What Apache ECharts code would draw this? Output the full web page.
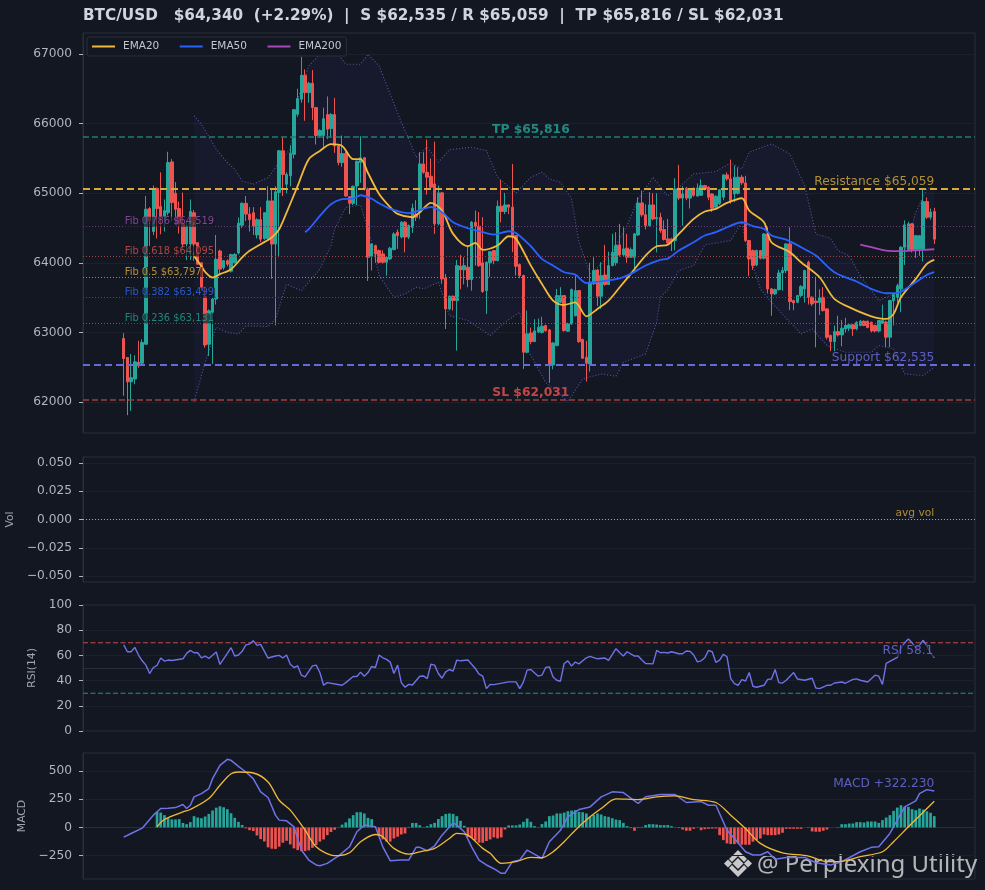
<!DOCTYPE html>
<html><head><meta charset="utf-8">
<style>html,body{margin:0;padding:0;background:#131722}#c{width:985px;height:890px}</style>
<script src="https://cdn.jsdelivr.net/npm/echarts@6/dist/echarts.min.js"></script></head>
<body><div id="c"></div>
<script>
// candle rows: bar index, open, close, low, high
const ohlc = [
[0,62913,62625,62090,62990],[1,62640,62290,61811,62640],[2,62290,62350,61873,62690],[3,62330,62577,62256,62673],
[4,62570,62520,62490,62880],[5,62558,62855,62520,62900],[6,62830,64770,62830,64960],[7,64780,64600,64240,64800],
[8,64450,65060,64400,65110],[9,65070,64780,64350,65080],[10,64810,64670,64410,65300],[11,64670,64750,64450,64910],
[12,64720,65440,64680,65595],[13,65450,64865,64600,65490],[14,65000,64770,64540,65160],[15,64780,64560,64420,64880],
[16,64560,64270,64200,65010],[17,64270,64530,64040,64600],[18,64270,64740,64040,64910],[19,64720,64270,64030,64760],
[20,64290,63980,63970,64290],[21,64000,63650,63600,64010],[22,63520,62820,62780,63650],[23,62830,63310,62660,63330],
[24,63290,63480,62545,63500],[25,63480,64050,63400,64400],[26,64170,63910,63840,64190],[27,63930,64030,63900,64040],
[28,64030,63980,63950,64050],[29,63880,64120,63860,64130],[30,64000,64120,63990,64140],[31,64140,64570,64120,64650],
[32,64540,64855,64500,64870],[33,64855,64700,64600,64960],[34,64700,64620,64450,64800],[35,64720,64530,64400,64800],
[36,64400,64620,64350,64640],[37,64620,64340,64300,64800],[38,64350,64720,64330,64730],[39,64350,64890,64330,65100],
[40,64890,64270,63770,65060],[41,64270,65020,63100,65100],[42,65010,65610,64080,65620],[43,65610,65270,64960,65800],
[44,65130,65270,65000,65300],[45,65250,65575,65100,65690],[46,65560,66200,65500,66210],[47,66135,66360,66100,66500],
[48,66350,66695,66300,66960],[49,66695,66445,66040,66780],[50,66445,66580,66300,66600],[51,66580,66230,66050,66770],
[52,66230,65830,65700,66240],[53,65830,65900,65800,65920],[54,65830,66070,65650,66230],[55,66130,65920,65780,66390],
[56,65930,66130,65800,66150],[57,66130,65680,65580,66370],[58,65680,65440,65400,65700],[59,65440,65570,65380,65830],
[60,65570,64960,64950,65600],[61,64950,64855,64700,64960],[62,64855,65100,64830,65110],[63,65105,65460,64830,65470],
[64,65440,65510,65150,65820],[65,65510,65060,65040,65520],[66,65060,64080,63740,65080],[67,64095,64272,63890,64280],
[68,64248,64128,64000,64260],[69,64176,64008,63990,64190],[70,64128,64008,63990,64180],[71,64008,64080,63815,64090],
[72,64056,64210,64040,64230],[73,64190,64415,64180,64440],[74,64440,64390,64200,64480],[75,64370,64583,64350,64600],
[76,64583,64370,64150,64600],[77,64370,64535,64340,64550],[78,64510,64785,64430,64850],[79,64700,64655,64600,64900],
[80,64730,65421,64631,65590],[81,65421,65300,65280,65590],[82,65300,65230,64980,65770],[83,65244,65086,65060,65500],
[84,65134,64560,64416,65742],[85,64560,65005,64540,65110],[86,65005,63769,63700,65020],[87,63780,63338,63050,63840],
[88,63338,63520,63320,63530],[89,63520,63458,63314,63530],[90,63458,63960,62739,64040],[91,63950,63900,63620,64114],
[92,63900,63960,63690,64080],[93,63937,63760,63650,64230],[94,63760,64583,63600,64600],[95,64583,64526,63960,64750],
[96,64526,63960,63940,64730],[97,64000,63587,63570,64655],[98,63600,64008,63266,64020],[99,64000,64160,63800,64170],
[100,64176,64032,63980,64180],[101,64032,64813,64020,64895],[102,64813,64737,64580,65190],[103,64737,64832,64700,65005],
[104,64832,64800,64700,64840],[105,64800,64392,64152,65421],[106,64392,63950,63817,64400],[107,63975,63817,63780,63990],
[108,63817,62715,62476,63830],[109,62715,62980,62700,63314],[110,62993,62868,62830,63070],[111,62868,63022,62860,63190],
[112,63005,63075,62990,63200],[113,63000,63090,62985,63225],[114,63098,63025,63010,63110],[115,63036,62533,62275,63050],
[116,62533,62849,62470,62860],[117,62811,63529,62800,63625],[118,63433,63529,63420,63650],[119,63529,63027,63010,63535],
[120,63017,63122,63010,63140],[121,63122,63616,63110,63630],[122,63240,63601,63230,63817],[123,63601,62868,62850,63610],
[124,62897,62629,62620,62910],[125,62643,62557,62294,62880],[126,62547,63721,62437,64000],[127,63700,63890,63680,64080],
[128,63898,63520,63380,63910],[129,63520,63817,63337,64008],[130,63826,63688,63670,64258],[131,63688,63960,63680,64160],
[132,63960,64152,63950,64416],[133,64000,64248,63960,64440],[134,64258,64114,64090,64560],[135,64114,64200,64100,64510],
[136,64210,64080,64000,64416],[137,64080,64190,64070,64220],[138,64080,64415,63860,64430],[139,64400,64860,64390,64943],
[140,64860,64690,64660,65038],[141,64690,64535,64480,64840],[142,64535,64832,64520,65014],[143,64832,64630,64610,65000],
[144,64632,64650,64150,65000],[145,64655,64463,64430,64720],[146,64478,64334,64320,64610],[147,64344,64286,64270,64630],
[148,64344,64306,64170,64360],[149,64320,65062,64180,65215],[150,65062,64930,64900,65407],[151,64930,64990,64535,65100],
[152,65070,64930,64900,65090],[153,64930,65062,64780,65070],[154,65060,64970,64950,65085],[155,64960,65075,64950,65140],
[156,64970,65110,64960,65200],[157,65110,65060,65040,65120],[158,65086,64942,64900,65100],[159,64990,64785,64730,65000],
[160,64800,64957,64780,64970],[161,64850,65050,64830,65060],[162,64942,65263,64900,65270],[163,65263,65206,65180,65300],
[164,65206,64895,64850,65484],[165,64990,65230,64870,65397],[166,65000,65230,64980,65370],[167,65230,65150,65120,65260],
[168,65148,64320,64300,65250],[169,64320,64056,63807,64330],[170,64176,63960,63900,64190],[171,63970,64176,63950,64190],
[172,64176,64066,64050,64180],[173,64066,64415,64050,64430],[174,64415,63625,63560,64511],[175,63625,63553,63240,63640],
[176,63553,63616,63540,63630],[177,63616,63855,63600,63900],[178,63855,63889,63600,63940],[179,63889,64272,63850,64280],
[180,64272,63443,63320,64511],[181,63457,63424,63320,63470],[182,63433,63529,63420,63540],[183,63530,63660,63510,63680],
[184,63625,63889,63430,63900],[185,64008,63505,63400,64030],[186,63505,63410,63380,63520],[187,63450,63430,62787,63800],
[188,63430,63500,63250,63620],[189,63505,63314,63300,63650],[190,63338,62931,62900,63350],[191,62955,62868,62730,62970],
[192,62868,63012,62730,63100],[193,63012,62964,62940,63240],[194,62964,63060,62800,63180],[195,63050,63100,63000,63210],
[196,63060,63110,63020,63130],[197,63110,63050,62950,63120],[198,63050,63145,63030,63160],[199,63100,63160,63090,63180],
[200,63160,63100,63090,63175],[201,63160,63070,63060,63170],[202,63145,63020,63000,63155],[203,63100,63020,63000,63110],
[204,63020,63170,63000,63180],[205,63130,63170,63120,63400],[206,63150,62931,62790,63170],[207,62931,63458,62790,63470],
[208,63458,63550,63100,63560],[209,63500,63670,63430,63700],[210,63625,64224,63290,64240],[211,64224,64545,63970,64610],
[212,64190,64560,64180,64590],[213,64560,64190,64150,64570],[214,64190,64390,64070,64400],[215,64200,64390,64100,64400],
[216,64200,64880,64020,65072],[217,64880,64655,64630,64940],[218,64655,64730,64620,64780],[219,64737,64340,64270,64790]];

const ema20 = [[19,64100],[21,63950],[22,63870],[24,63789],[26,63837],[29,63909],[32,64077],[34,64172],[37,64268],[40,64364],[42,64483],[44,64722],[47,65105],[50,65489],[53,65608],[56,65704],[59,65680],[62,65489],[64,65489],[66,65290],[69,64990],[72,64800],[74,64703],[78,64655],[80,64727],[83,64861],[86,64751],[89,64416],[93,64238],[95,64286],[97,64186],[101,64248],[104,64382],[106,64344],[110,63960],[113,63697],[116,63458],[119,63395],[122,63433],[125,63232],[128,63338],[131,63458],[134,63649],[137,63841],[141,64104],[144,64238],[147,64260],[150,64416],[154,64631],[157,64737],[160,64775],[163,64861],[167,64928],[169,64751],[173,64583],[175,64296],[180,64152],[183,64008],[188,63793],[192,63482],[197,63338],[202,63232],[206,63194],[208,63266],[210,63505],[214,63769],[217,63985],[219,64042]];
const ema50 = [[49,64440],[50,64483],[53,64674],[56,64842],[59,64914],[62,64923],[64,64971],[67,64920],[69,64856],[72,64775],[77,64713],[81,64775],[83,64799],[86,64727],[89,64583],[93,64497],[97,64440],[100,64406],[104,64454],[106,64430],[110,64238],[113,64056],[116,63961],[119,63865],[122,63831],[125,63711],[129,63735],[134,63778],[137,63841],[141,63961],[145,64042],[147,64060],[150,64176],[154,64296],[157,64392],[160,64440],[163,64511],[167,64583],[170,64526],[173,64488],[175,64392],[179,64334],[183,64224],[187,64104],[192,63865],[198,63731],[202,63625],[206,63563],[209,63568],[214,63721],[217,63826],[219,63865]];
const ema200 = [[199,64260],[202,64224],[206,64176],[210,64167],[214,64181],[219,64195]];
const bbUpper = [[19,66111],[21,65992],[25,65632],[28,65441],[30,65345],[32,65177],[35,65129],[39,65225],[42,65441],[45,65632],[47,66351],[50,66830],[53,66997],[58,66997],[60,66854],[64,66854],[66,66997],[69,66830],[75,66020],[77,65780],[79,65517],[82,65661],[85,65445],[88,65627],[94,65661],[98,65613],[101,65230],[106,65005],[110,65230],[113,65302],[115,65206],[118,65158],[121,64918],[123,64296],[126,63841],[129,63985],[132,64152],[136,64535],[139,64918],[143,65230],[147,64960],[150,65086],[154,65278],[160,65311],[164,65436],[167,65350],[169,65589],[175,65709],[180,65565],[184,65110],[187,64416],[191,64353],[193,64176],[196,64104],[199,63817],[204,63458],[209,63577],[211,64152],[214,64727],[217,65062],[219,65086]];
const bbLower = [[19,62003],[22,62568],[25,63071],[28,63000],[31,62975],[33,63095],[39,63085],[41,63190],[44,63693],[48,63598],[53,63909],[56,64244],[57,64483],[60,64794],[64,64828],[67,64300],[69,63817],[73,63505],[76,63553],[79,63649],[81,63625],[85,63721],[88,63242],[93,63170],[99,62955],[103,63146],[107,63290],[109,62763],[114,62284],[120,62006],[124,62332],[129,62404],[133,62370],[135,62571],[141,62691],[144,63146],[145,63505],[147,63615],[150,63889],[154,63961],[157,64258],[164,64320],[167,64583],[168,64296],[172,63625],[175,63434],[180,63146],[183,62978],[186,63050],[190,62811],[195,62715],[202,62715],[204,62811],[208,62763],[211,62404],[216,62380],[219,62500]];
const rsi = [[0,68.3],[1,62.9],[2,62.9],[3,66.4],[4,60.3],[5,55.7],[6,52.3],[7,45.6],[8,50.4],[9,52],[10,57.9],[11,55.5],[12,56.3],[13,56],[16,57.3],[17,61.6],[18,64],[19,62.1],[20,62.1],[21,58.1],[22,59.5],[23,57.6],[25,62.7],[26,52.8],[28,61.6],[29,66.1],[30,59.5],[31,60.3],[32,63.2],[33,68.3],[34,69],[35,71.7],[36,68],[37,68.8],[39,57.9],[41,59.5],[42,60],[43,57.9],[44,60.3],[45,53],[46,50.4],[47,51.7],[48,44.3],[49,42.9],[51,51.7],[52,52.3],[53,46.4],[54,36.3],[55,38.4],[59,36.3],[60,38.4],[62,43.2],[63,43.2],[64,46.7],[65,43.5],[66,46.4],[67,51.2],[68,50.4],[69,60.3],[70,58.1],[71,56.8],[72,54.7],[73,45.6],[74,52.3],[75,38.4],[76,34.7],[77,37],[78,36.5],[80,43.5],[81,43.7],[82,41.6],[83,53],[84,52.3],[85,45.6],[86,41.9],[87,46.9],[88,48.8],[89,47.5],[90,56.3],[91,55.7],[93,56.3],[95,49.6],[96,45.1],[97,43.5],[98,33.6],[99,37],[100,36.8],[104,39],[106,39],[107,33.6],[108,39],[109,48.3],[110,48.8],[112,43.5],[113,44.3],[114,50.4],[115,50.9],[116,42.9],[117,40.3],[118,39.5],[119,53.6],[120,55.7],[121,51.5],[122,54.7],[123,53.3],[125,58.1],[126,59.2],[128,57.3],[130,57.9],[131,56],[133,65.3],[134,62.1],[135,59.5],[136,62.9],[138,59.5],[139,59.5],[140,56.3],[141,53.6],[143,53.3],[144,64],[145,62.1],[146,62.4],[147,61.9],[148,62.9],[150,61.3],[151,61.3],[152,63.5],[153,63.2],[154,60.3],[155,54.9],[156,55.7],[157,58.1],[158,64],[159,62.9],[160,54.4],[161,56.3],[162,60.8],[163,58.9],[164,41.6],[165,37.6],[166,36.3],[167,40.8],[168,39.7],[169,46.4],[170,35.5],[171,34.7],[173,36.3],[174,41],[175,41.3],[176,48.8],[177,38.4],[178,38.1],[179,40.3],[181,46.4],[182,41.3],[184,40.3],[186,41.9],[187,34.1],[188,33.6],[190,36.3],[191,36.3],[192,38.1],[194,38.9],[195,37.9],[197,41],[198,41.3],[199,40.3],[201,38.9],[203,44.3],[204,43.5],[205,37],[206,53.6],[209,58.4],[210,66],[211,70],[212,73],[213,70],[214,66],[215,68],[216,72],[217,67.5],[218,62],[219,58.1]];
const macd = [[0,-85],[2,-53],[5,-6],[8,109],[10,168],[12,171],[14,176],[16,203],[17,168],[18,197],[19,271],[21,300],[23,344],[24,432],[26,550],[28,603],[29,594],[31,541],[33,491],[35,432],[37,315],[39,265],[41,109],[42,65],[44,59],[46,6],[47,-97],[48,-200],[50,-288],[52,-332],[53,-338],[55,-318],[57,-274],[58,-253],[61,-171],[63,-38],[65,21],[68,6],[70,-171],[72,-294],[75,-288],[77,-288],[79,-176],[80,-176],[82,-206],[84,-162],[86,-68],[89,41],[90,21],[92,-38],[94,-171],[96,-288],[98,-332],[100,-365],[102,-406],[103,-406],[105,-303],[107,-288],[109,-200],[113,-273],[115,-126],[118,-24],[120,94],[123,159],[126,182],[129,271],[132,315],[135,309],[139,212],[141,271],[145,291],[149,291],[152,221],[156,229],[158,197],[160,197],[163,-24],[165,-97],[168,-215],[170,-244],[172,-244],[174,-215],[176,-282],[179,-265],[184,-265],[187,-312],[191,-332],[194,-303],[199,-215],[202,-176],[204,-171],[207,-53],[211,182],[214,235],[215,300],[217,335],[219,322]];
const signal = [[9,6],[11,71],[16,138],[18,159],[23,256],[26,374],[29,476],[31,491],[35,482],[39,403],[42,241],[45,153],[49,-24],[52,-171],[56,-244],[58,-250],[61,-224],[64,-126],[68,-62],[70,-82],[73,-185],[77,-235],[80,-215],[84,-185],[88,-97],[90,-53],[93,-68],[97,-185],[99,-229],[102,-318],[106,-303],[110,-265],[113,-268],[116,-215],[119,-126],[122,-24],[126,94],[129,168],[133,253],[139,247],[144,271],[149,279],[154,247],[160,221],[164,109],[168,-9],[172,-141],[178,-224],[185,-253],[189,-297],[193,-303],[199,-259],[205,-215],[208,-126],[212,6],[219,232]];
const hist = [[9,138],[10,132],[11,109],[12,82],[13,71],[14,71],[15,74],[16,40],[17,29],[18,47],[19,100],[20,88],[21,82],[22,97],[23,120],[24,150],[25,175],[26,188],[27,179],[28,162],[29,126],[30,85],[31,50],[32,22],[33,-8],[34,-24],[35,-32],[36,-71],[37,-103],[38,-124],[39,-176],[40,-188],[41,-190],[42,-170],[43,-135],[44,-118],[45,-150],[46,-185],[47,-200],[48,-209],[49,-209],[50,-203],[51,-180],[52,-155],[53,-125],[54,-106],[55,-68],[56,-40],[57,-20],[58,2],[59,25],[60,45],[61,80],[62,109],[63,135],[64,135],[65,124],[66,85],[67,74],[68,5],[69,-70],[70,-105],[71,-125],[72,-125],[73,-97],[74,-82],[75,-62],[76,-53],[77,5],[78,40],[79,40],[80,20],[81,3],[82,12],[83,29],[84,41],[85,75],[86,100],[87,120],[88,124],[89,120],[90,100],[91,59],[92,15],[93,-85],[94,-92],[95,-115],[96,-135],[97,-135],[98,-120],[99,-106],[100,-88],[101,-97],[102,-88],[103,-18],[104,18],[105,18],[106,18],[107,26],[108,50],[109,79],[110,50],[111,12],[112,2],[113,30],[114,53],[115,100],[116,106],[117,124],[118,124],[119,132],[120,144],[121,150],[122,153],[123,138],[124,135],[125,124],[126,94],[127,112],[128,124],[129,115],[130,100],[131,94],[132,82],[133,70],[134,65],[135,41],[136,12],[137,-6],[138,-29],[139,-5],[140,5],[141,21],[142,29],[143,29],[144,26],[145,21],[146,21],[147,21],[148,12],[149,2],[150,-5],[151,-18],[152,-29],[153,-29],[154,-12],[155,2],[156,-24],[157,-15],[158,-12],[159,-10],[160,-9],[161,-68],[162,-112],[163,-141],[164,-147],[165,-147],[166,-141],[167,-153],[168,-153],[169,-153],[170,-126],[171,-112],[172,-97],[173,-62],[174,-68],[175,-68],[176,-68],[177,-62],[178,-47],[179,-12],[180,-12],[181,-12],[182,-12],[183,-12],[184,0],[185,-3],[186,-35],[187,-38],[188,-38],[189,-29],[190,-18],[191,0],[192,0],[193,3],[194,29],[195,29],[196,35],[197,35],[198,47],[199,47],[200,44],[201,53],[202,53],[203,53],[204,41],[205,65],[206,88],[207,109],[208,147],[209,176],[210,197],[211,182],[212,182],[213,162],[214,153],[215,168],[216,159],[217,144],[218,130],[219,100]];

const priceTicks = [62000,63000,64000,65000,66000,67000];
const volTicks = [-0.05,-0.025,0,0.025,0.05];
const macdTicks = [-250,0,250,500];
const rsiLevels = [70,30];
const titleText = 'BTC/USD   $64,340  (+2.29%)  |  S $62,535 / R $65,059  |  TP $65,816 / SL $62,031';
const levelValues = [65816,65059,62535,62031];
const fibNames = ['Fib 0.786 $64,519','Fib 0.618 $64,095','Fib 0.5 $63,797','Fib 0.382 $63,499','Fib 0.236 $63,131'];
const fibValues = [64519,64095,63797,63499,63131];

const PAD = 11, N = 220, LAST_LABEL = 219;
const cats = Array.from({length: N + 2 * PAD}, (_, k) => k);
const shift = rows => rows.map(r => [r[0] + PAD, r[1]]);
const candles = cats.map(() => '-');
ohlc.forEach(r => { candles[r[0] + PAD] = r.slice(1); });

const UP = '#26a69a', DOWN = '#ef5350', GOLD = '#f0b93a', BLUE = '#2962ff', PURPLE = '#ab47bc', INDIGO = '#6f72e8';
const FONT = '"DejaVu Sans"', BG = '#131722', BORDER = '#2a2e39', GRID = '#1c202b', TXT = '#b2b5be';
const grids = [[33,400],[457,125],[605,126],[753,126]];

const hLine = (y, color, type, width) => ({yAxis: y, lineStyle: {color, type, width}});
const lineSeries = (name, data, color, width, axis, extra) => Object.assign({
  name, type: 'line', data: shift(data), xAxisIndex: axis, yAxisIndex: axis, showSymbol: false, symbol: 'none',
  silent: true, lineStyle: {color, width}, itemStyle: {color}, z: 6, clip: true
}, extra || {});
const levelSeries = (axis, y, color) => ({
  type: 'line', data: [[0, y], [cats.length - 1, y]], xAxisIndex: axis, yAxisIndex: axis, symbol: 'none', showSymbol: false, silent: true, z: 5,
  lineStyle: {color, width: 1.1, type: [5, 2.5]}
});
const rules = (axis, items, z) => ({
  type: 'line', data: [], xAxisIndex: axis, yAxisIndex: axis, silent: true, z: z || 5,
  markLine: {silent: true, symbol: 'none', animation: false, label: {show: false}, data: items, z: z || 5}
});
const note = (axis, i, y, text, color, align, size, weight, bg, dist) => ({
  type: 'scatter', xAxisIndex: axis, yAxisIndex: axis, silent: true, symbolSize: 0, z: 8,
  data: [[i + PAD, y]],
  label: {show: true, position: 'top', distance: dist === undefined ? 1 : dist, formatter: text, color, align,
    fontFamily: FONT, fontSize: size, fontWeight: weight || 'normal',
    backgroundColor: bg || 'transparent', padding: bg ? [0, 1] : 0}
});
const bbIdxLower = shift(bbLower), bbIdxUpper = shift(bbUpper);

const TICK = {show: true, length: 4, lineStyle: {color: TXT, width: 1}};
const LABEL = {color: TXT, fontFamily: FONT, fontSize: 12.2, margin: 11, padding: [3,0,0,0], formatter: v => String(v)};
const yAxisCommon = (i, extra) => Object.assign({
  type: 'value', gridIndex: i, scale: false,
  axisLine: {show: true, onZero: false, lineStyle: {color: BORDER}},
  axisTick: TICK, axisLabel: LABEL,
  splitLine: {show: true, lineStyle: {color: GRID, width: 1}},
  nameLocation: 'middle', nameRotate: 90,
  nameTextStyle: {color: '#a0a3ad', fontFamily: FONT, fontSize: 10.8}
}, extra);
const minus = v => String(v).replace('-', '\u2212');

const option = {
  backgroundColor: BG, animation: false,
  title: {text: titleText, left: 83, top: 9, padding: 0,
    textStyle: {color: '#d1d4dc', fontFamily: FONT, fontWeight: 'bold', fontSize: 15.25}},
  legend: {left: 87, top: 37, orient: 'horizontal', data: ['EMA20','EMA50','EMA200'], icon: 'rect',
    itemWidth: 23, itemHeight: 2, itemGap: 20.5, padding: [4, 5, 4, 5],
    backgroundColor: BG, borderColor: BORDER, borderWidth: 1, borderRadius: 2, z: 20,
    textStyle: {color: '#c4c7cf', fontFamily: FONT, fontSize: 10.5, padding: [0,0,0,3]}},
  grid: grids.map(g => ({left: 83, right: 10, top: g[0], height: g[1], show: true, outerBoundsMode: 'none',
    borderColor: BORDER, borderWidth: 1, backgroundColor: 'transparent', containLabel: false})),
  xAxis: grids.map((g, i) => ({type: 'category', gridIndex: i, data: cats, boundaryGap: false,
    axisLine: {show: false}, axisTick: {show: false}, axisLabel: {show: false}, splitLine: {show: false}})),
  yAxis: [
    yAxisCommon(0, {min: 61555, max: 67302,
      axisTick: Object.assign({}, TICK, {customValues: priceTicks}),
      axisLabel: Object.assign({}, LABEL, {customValues: priceTicks})}),
    yAxisCommon(1, {min: -0.0552, max: 0.0552, name: 'Vol', nameGap: 62,
      axisTick: Object.assign({}, TICK, {customValues: volTicks}),
      axisLabel: Object.assign({}, LABEL, {customValues: volTicks, formatter: v => minus(v.toFixed(3))})}),
    yAxisCommon(2, {min: 0, max: 100, interval: 20, name: 'RSI(14)', nameGap: 38}),
    yAxisCommon(3, {min: -456, max: 659, name: 'MACD', nameGap: 49,
      axisTick: Object.assign({}, TICK, {customValues: macdTicks}),
      axisLabel: Object.assign({}, LABEL, {customValues: macdTicks, formatter: v => minus(v)})})
  ],
  series: [
    {type: 'custom', coordinateSystem: 'cartesian2d', xAxisIndex: 0, yAxisIndex: 0, silent: true, z: 1, data: [0],
      renderItem: (params, api) => {
        const pts = bbIdxUpper.concat(bbIdxLower.slice().reverse()).map(p => api.coord(p));
        return {type: 'polygon', shape: {points: pts}, style: {fill: 'rgba(99,102,241,0.05)'}};
      }},
    {type: 'candlestick', data: candles, xAxisIndex: 0, yAxisIndex: 0, barWidth: 3, silent: true, z: 3,
      itemStyle: {color: UP, color0: DOWN, borderColor: UP, borderColor0: DOWN, borderWidth: 1}},
    lineSeries('BB upper', bbUpper, '#55589f', 1.1, 0, {lineStyle: {color: '#55589f', width: 1.1, type: [1,2]}, z: 2}),
    lineSeries('BB lower', bbLower, '#55589f', 1.1, 0, {lineStyle: {color: '#55589f', width: 1.1, type: [1,2]}, z: 2}),
    lineSeries('EMA20', ema20, GOLD, 1.8, 0, {smooth: 0.3}),
    lineSeries('EMA50', ema50, BLUE, 1.8, 0, {smooth: 0.3}),
    lineSeries('EMA200', ema200, PURPLE, 1.8, 0, {smooth: 0.3}),
    rules(0, [
      hLine(levelValues[0], '#1f7d76', [6,3], 1.5),
      hLine(levelValues[1], '#d9a93a', [7,4], 1.8),
      hLine(levelValues[2], '#6669d8', [7,4], 1.8),
      hLine(levelValues[3], '#a23e3e', [6,3], 1.5),
      hLine(fibValues[0], '#6b3a7c', [1,2], 1),
      hLine(fibValues[1], '#9a4245', [1,2], 1),
      hLine(fibValues[2], '#a58a3a', [1,2], 1),
      hLine(fibValues[3], '#2450c0', [1,2], 1),
      hLine(fibValues[4], '#1f7d76', [1,2], 1)
    ]),
    note(0, 110, levelValues[0], 'TP $65,816', UP, 'center', 12.3, 'bold'),
    note(0, 110, levelValues[3], 'SL $62,031', DOWN, 'center', 12.3, 'bold'),
    note(0, LAST_LABEL, levelValues[1], 'Resistance $65,059', '#d9ae3e', 'right', 12.2),
    note(0, LAST_LABEL, levelValues[2], 'Support $62,535', INDIGO, 'right', 12.2),
    note(0, 0, fibValues[0], fibNames[0], '#a04db5', 'left', 9.9, 'normal', 'rgba(19,23,34,0.8)', 0),
    note(0, 0, fibValues[1], fibNames[1], '#d94f4f', 'left', 9.9, 'normal', 'rgba(19,23,34,0.8)', 0),
    note(0, 0, fibValues[2], fibNames[2], '#e0ad3a', 'left', 9.9, 'normal', 'rgba(19,23,34,0.8)', 0),
    note(0, 0, fibValues[3], fibNames[3], '#2f68f5', 'left', 9.9, 'normal', 'rgba(19,23,34,0.8)', 0),
    note(0, 0, fibValues[4], fibNames[4], '#26a095', 'left', 9.9, 'normal', 'rgba(19,23,34,0.8)', 0),
    rules(1, [hLine(0, '#c9a034', [1,2], 1.2)]),
    note(1, LAST_LABEL, 0, 'avg vol', '#d4a937', 'right', 10.7),
    rules(2, [hLine(50, '#2a2e39', 'solid', 1)], 2),
    levelSeries(2, rsiLevels[0], '#c54a4a'),
    levelSeries(2, rsiLevels[1], '#22908a'),
    lineSeries('RSI', rsi, INDIGO, 1.4, 2),
    note(2, LAST_LABEL, 58.1, 'RSI 58.1', INDIGO, 'right', 12.2, 'normal', 'rgba(19,23,34,0.8)', 1),
    rules(3, [hLine(0, '#2a2e39', 'solid', 1)], 2),
    {type: 'bar', data: shift(hist), xAxisIndex: 3, yAxisIndex: 3, barWidth: 2.7, silent: true, z: 3,
      itemStyle: {color: p => p.value[1] >= 0 ? UP : DOWN}},
    lineSeries('MACD', macd, INDIGO, 1.5, 3),
    lineSeries('Signal', signal, GOLD, 1.3, 3, {smooth: 0.3}),
    note(3, LAST_LABEL, 322, 'MACD +322.230', INDIGO, 'right', 12.2, 'normal', null, 1)
  ],
  graphic: {elements: [
    {type: 'group', z: 100, silent: true, children: [
      {type: 'polygon', shape: {points: [[738,858],[743.5,863.5],[738,869],[732.5,863.5]]}, style: {fill: 'rgba(225,225,225,0.88)'}},
      {type: 'polygon', shape: {points: [[728,859.5],[732,863.5],[728,867.5],[724,863.5]]}, style: {fill: 'rgba(225,225,225,0.88)'}},
      {type: 'polygon', shape: {points: [[748,859.5],[752,863.5],[748,867.5],[744,863.5]]}, style: {fill: 'rgba(225,225,225,0.88)'}},
      {type: 'polygon', shape: {points: [[738,850],[747,859],[744,862],[738,856],[732,862],[729,859]]}, style: {fill: 'rgba(225,225,225,0.88)'}},
      {type: 'polygon', shape: {points: [[738,877],[747,868],[744,865],[738,871],[732,865],[729,868]]}, style: {fill: 'rgba(225,225,225,0.88)'}},
      {type: 'text', left: 757, top: 853, style: {text: '@ Perplexing Utility', fill: 'rgba(225,225,225,0.78)', fontFamily: '"Noto Sans"', fontSize: 24,
        shadowBlur: 2, shadowColor: 'rgba(0,0,0,0.6)'}}
    ]}
  ]}
};
const chart = echarts.init(document.getElementById('c'), null, {renderer: 'canvas', width: 985, height: 890});
chart.setOption(option);
</script></body></html>
